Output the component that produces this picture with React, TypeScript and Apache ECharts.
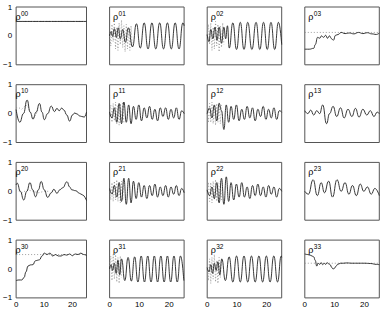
import React, { useEffect, useRef } from 'react';
import * as echarts from 'echarts';

// ---------- data (solid = estimate, dotted = reference) ----------
const p00x = [0, 25];
const p00y = [0.5, 0.5];
const d00x = [0, 25];
const d00y = [0.5, 0.5];

const p01x = [0, 0.5, 1.0, 1.6, 2.3, 2.9, 3.6, 4.4, 5.3, 6.3, 7.7, 9.0, 10.3, 11.6, 12.9, 14.2, 15.5, 16.8, 18.1, 19.4, 20.7, 22.0, 23.3, 24.6, 25];
const p01y = [0.0, 0.15, -0.02, 0.25, -0.05, 0.28, -0.1, 0.22, -0.22, 0.28, -0.38, 0.42, -0.42, 0.45, -0.45, 0.45, -0.45, 0.45, -0.45, 0.45, -0.45, 0.45, -0.45, 0.45, 0.35];
const d01x = [0, 0.4, 0.8, 1.2, 1.6, 2.0, 2.4, 2.8, 3.2, 3.6, 4.0, 4.4, 4.8, 5.2, 5.6, 6.0, 6.4, 6.8, 7.2, 7.6];
const d01y = [0.1, -0.35, 0.4, -0.2, 0.5, -0.45, 0.3, -0.5, 0.45, -0.3, 0.55, -0.4, 0.35, -0.55, 0.4, -0.45, 0.3, -0.5, 0.35, -0.38];

const p02x = [0, 0.6, 1.2, 1.9, 2.6, 3.3, 4.0, 4.8, 5.6, 6.2, 6.8, 7.4, 8.6, 9.85, 11.1, 12.35, 13.6, 15.0, 16.4, 17.65, 18.9, 20.15, 21.4, 22.65, 23.9, 25];
const p02y = [0.05, -0.2, 0.22, -0.1, 0.3, -0.15, 0.3, -0.25, 0.3, -0.1, 0.35, -0.42, 0.45, -0.47, 0.47, -0.47, 0.47, -0.47, 0.47, -0.47, 0.47, -0.47, 0.47, -0.47, 0.47, -0.3];
const d02x = [0, 0.4, 0.8, 1.2, 1.6, 2.0, 2.4, 2.8, 3.2, 3.6, 4.0, 4.4, 4.8, 5.2, 5.6];
const d02y = [0.0, 0.4, -0.3, 0.45, -0.5, 0.3, -0.45, 0.5, -0.35, 0.4, -0.55, 0.35, -0.4, 0.45, -0.3];

const p03x = [0, 1.5, 3.0, 3.5, 4.3, 5.0, 5.6, 6.3, 7.0, 7.6, 8.3, 9.0, 9.6, 10.3, 11.2, 12.2, 13.5, 15, 16.5, 18, 19.5, 21, 22.5, 24, 25];
const p03y = [-0.46, -0.46, -0.43, -0.3, -0.05, -0.08, 0.0, -0.05, 0.02, -0.08, 0.0, -0.1, -0.15, 0.02, 0.05, 0.12, 0.08, 0.1, 0.07, 0.12, 0.08, 0.11, 0.07, 0.05, 0.1];
const d03x = [0, 25];
const d03y = [0.12, 0.12];

const p10x = [0, 1.3, 2.6, 3.9, 5.0, 6.0, 7.1, 8.3, 9.2, 10.0, 11.2, 12.5, 13.6, 14.5, 15.3, 16.2, 17.0, 18.0, 19.0, 20.0, 20.8, 21.8, 22.5, 23.3, 24.2, 25];
const p10y = [0.14, -0.3, 0.0, 0.47, 0.05, -0.19, 0.05, 0.35, 0.05, -0.21, 0.0, 0.26, 0.07, 0.18, 0.1, 0.19, 0.12, -0.05, -0.26, -0.05, 0.02, -0.02, -0.08, -0.1, -0.12, 0.05];
const d10x = [0, 1, 2, 3, 4, 5, 6, 7, 8];
const d10y = [0.2, 0.2, 0.15, 0.25, 0.3, 0.05, -0.15, -0.05, 0.2];

const nx = [0, 0.8, 1.6, 2.4, 3.2, 4.0, 4.8, 5.6, 6.4, 7.2, 8.0, 8.9, 9.8, 10.7, 11.6, 12.5, 13.4, 14.3, 15.2, 16.1, 17.0, 17.9, 18.8, 19.7, 20.6, 21.5, 22.4, 23.3, 24.2, 25];
const p11y = [0.05, -0.15, 0.2, -0.3, 0.35, -0.35, 0.4, -0.3, 0.3, -0.35, 0.25, -0.2, 0.3, -0.25, 0.2, -0.15, 0.25, -0.2, 0.15, -0.25, 0.2, -0.1, 0.2, -0.2, 0.15, -0.15, 0.2, -0.2, 0.1, 0.0];
const p12y = [0.0, 0.2, -0.15, 0.3, -0.25, 0.35, 0.1, -0.55, 0.3, -0.3, 0.25, -0.2, 0.3, -0.25, 0.15, -0.2, 0.25, -0.15, 0.2, -0.25, 0.15, -0.1, 0.25, -0.2, 0.15, -0.15, 0.2, -0.2, 0.1, 0.05];
const p21y = [0.1, -0.1, 0.2, -0.2, 0.3, -0.35, 0.45, -0.45, 0.45, -0.4, 0.35, -0.25, 0.3, -0.2, 0.2, -0.25, 0.2, -0.15, 0.25, -0.2, 0.15, -0.15, 0.2, -0.2, 0.15, -0.1, 0.2, -0.15, 0.1, -0.05];
const p22y = [0.05, -0.15, 0.15, -0.25, 0.3, -0.4, 0.45, -0.45, 0.5, -0.35, 0.3, -0.3, 0.25, -0.2, 0.3, -0.2, 0.15, -0.25, 0.2, -0.15, 0.25, -0.15, 0.15, -0.2, 0.2, -0.1, 0.15, -0.2, 0.1, 0.0];
const dnx = [0, 0.4, 0.8, 1.2, 1.6, 2.0, 2.4, 2.8, 3.2, 3.6, 4.0, 4.4, 4.8];
const d11y = [0.0, 0.3, -0.3, 0.35, -0.25, 0.4, -0.35, 0.3, -0.4, 0.35, -0.3, 0.4, -0.35];
const d12y = [0.0, -0.3, 0.35, -0.3, 0.4, -0.35, 0.3, -0.4, 0.35, -0.3, 0.4, -0.35, 0.3];
const d21y = [0.1, -0.3, 0.3, -0.35, 0.35, -0.3, 0.4, -0.35, 0.3, -0.4, 0.35, -0.3, 0.4];
const d22y = [0.0, 0.3, -0.35, 0.3, -0.4, 0.35, -0.3, 0.4, -0.35, 0.3, -0.4, 0.35, -0.3];

const p13x = [0, 1, 2, 3, 4, 5, 6, 7.3, 8.3, 9.5, 10.7, 12, 13.2, 14.5, 15.8, 17, 18.2, 19.5, 20.8, 22, 23.2, 24.3, 25];
const p13y = [0.1, 0.0, 0.12, -0.05, 0.1, 0.0, 0.3, -0.35, 0.0, 0.25, -0.1, 0.2, -0.15, 0.15, -0.1, 0.18, -0.12, 0.15, -0.05, 0.1, -0.1, 0.05, 0.0];

const p20x = [0, 0.4, 1.5, 2.7, 3.8, 4.9, 5.9, 6.9, 7.9, 8.9, 10.0, 11.2, 12.5, 13.4, 14.5, 15.5, 16.5, 18.1, 19.0, 19.8, 21.2, 22.5, 23.5, 25];
const p20y = [0.22, 0.28, 0.0, -0.3, 0.0, 0.3, 0.05, -0.19, 0.05, 0.34, 0.05, -0.21, -0.05, 0.07, -0.07, 0.05, 0.12, 0.33, 0.15, 0.05, 0.02, -0.07, -0.12, -0.32];
const d20x = [0, 2, 4, 6, 8, 10, 12];
const d20y = [0.05, -0.05, 0.05, 0.0, -0.05, 0.0, 0.0];

const p23x = [0, 1.2, 2.8, 4.2, 5.5, 6.6, 8, 9.3, 10.8, 12.2, 13.5, 14.8, 16, 17.3, 18.6, 19.8, 21, 22.3, 23.5, 25];
const p23y = [0.0, -0.1, 0.4, -0.15, 0.3, -0.05, 0.35, -0.2, 0.4, 0.0, 0.3, -0.1, 0.2, -0.15, 0.25, 0.0, 0.15, -0.1, 0.1, -0.15];

const p30x = [0, 1, 2, 2.8, 3.5, 4.2, 5, 6, 6.8, 7.5, 8.3, 9.2, 10, 11, 12, 13, 14, 15, 16, 17, 18, 19, 20, 21, 22, 23, 24, 25];
const p30y = [-0.4, -0.38, -0.38, -0.3, -0.1, 0.1, 0.14, 0.15, 0.28, 0.3, 0.32, 0.45, 0.55, 0.5, 0.55, 0.45, 0.5, 0.45, 0.45, 0.5, 0.48, 0.52, 0.46, 0.52, 0.5, 0.55, 0.5, 0.47];
const d30x = [0, 25];
const d30y = [0.5, 0.5];

const p31x = [0, 0.5, 1.0, 1.6, 2.2, 2.8, 3.4, 4.0, 5.1, 6.2, 7.3, 8.4, 9.5, 10.6, 11.7, 12.8, 13.9, 15.0, 16.1, 17.2, 18.3, 19.4, 20.5, 21.6, 22.7, 23.8, 24.9];
const p31y = [0.0, 0.15, -0.05, 0.2, -0.15, 0.3, -0.2, 0.35, -0.4, 0.4, -0.42, 0.42, -0.45, 0.45, -0.45, 0.45, -0.45, 0.45, -0.45, 0.45, -0.45, 0.45, -0.45, 0.45, -0.45, 0.45, -0.4];
const d31x = [0, 0.4, 0.8, 1.2, 1.6, 2.0, 2.4, 2.8, 3.2, 3.6, 4.0];
const d31y = [0.1, 0.45, -0.4, 0.5, -0.35, 0.55, -0.45, 0.4, -0.5, 0.45, -0.3];

const p32x = [0, 0.6, 1.2, 1.8, 2.4, 3.0, 3.6, 4.2, 4.9, 6.1, 7.35, 8.6, 9.85, 11.1, 12.35, 13.6, 14.85, 16.1, 17.35, 18.6, 19.85, 21.1, 22.35, 23.6, 24.85, 25];
const p32y = [0.05, -0.1, 0.15, -0.15, 0.2, -0.05, 0.25, -0.2, 0.35, -0.4, 0.42, -0.45, 0.45, -0.45, 0.45, -0.45, 0.45, -0.45, 0.45, -0.45, 0.45, -0.45, 0.45, -0.45, 0.45, 0.4];
const d32x = [0, 0.4, 0.8, 1.2, 1.6, 2.0, 2.4, 2.8, 3.2, 3.6, 4.0, 4.4, 4.8];
const d32y = [0.0, -0.4, 0.35, -0.5, 0.4, -0.35, 0.5, -0.45, 0.3, -0.5, 0.4, -0.3, 0.35];

const p33x = [0, 1, 2, 3, 3.5, 4, 4.5, 5, 5.5, 6, 6.5, 7, 7.5, 8, 8.5, 9, 9.5, 10, 10.5, 11, 12, 13, 14, 16, 18, 20, 22, 24, 25];
const p33y = [0.52, 0.5, 0.47, 0.42, 0.3, 0.1, 0.2, 0.16, 0.22, 0.15, 0.2, 0.16, 0.22, 0.18, 0.15, 0.06, 0.0, 0.03, 0.1, 0.16, 0.2, 0.2, 0.21, 0.2, 0.2, 0.2, 0.19, 0.16, 0.15];
const d33x = [0, 25];
const d33y = [0.2, 0.2];

const xTicks = [0, 10, 20];
const yTicks = [-1, 0, 1];

const PANELS = [
  ['00', p00x, p00y, d00x, d00y], ['01', p01x, p01y, d01x, d01y], ['02', p02x, p02y, d02x, d02y], ['03', p03x, p03y, d03x, d03y],
  ['10', p10x, p10y, d10x, d10y], ['11', nx, p11y, dnx, d11y], ['12', nx, p12y, dnx, d12y], ['13', p13x, p13y, [], []],
  ['20', p20x, p20y, d20x, d20y], ['21', nx, p21y, dnx, d21y], ['22', nx, p22y, dnx, d22y], ['23', p23x, p23y, [], []],
  ['30', p30x, p30y, d30x, d30y], ['31', p31x, p31y, d31x, d31y], ['32', p32x, p32y, d32x, d32y], ['33', p33x, p33y, d33x, d33y],
] as const;

const LEFTS = [12, 109.6, 207.2, 304.8];
const TOPS = [7, 84.7, 162.4, 240.1];
const W = 74.5;
const H = 57.8;
const FONT = 'Liberation Sans, Arial, sans-serif';

const zip = (xs: readonly number[], ys: readonly number[]) => xs.map((x, i) => [x, ys[i]]);

export default function App() {
  const ref = useRef<HTMLDivElement>(null);
  useEffect(() => {
    if (!ref.current) return;
    const chart = echarts.init(ref.current, undefined, { renderer: 'svg' });
    const grid: any[] = [];
    const xAxis: any[] = [];
    const yAxis: any[] = [];
    const series: any[] = [];
    const graphic: any[] = [];
    PANELS.forEach((p, k) => {
      const r = Math.floor(k / 4);
      const c = k % 4;
      const left = LEFTS[c];
      const top = TOPS[r];
      grid.push({ left, top, width: W, height: H, show: true, borderColor: '#555', borderWidth: 1, backgroundColor: 'transparent' });
      xAxis.push({
        gridIndex: k, type: 'value', min: 0, max: 25, interval: 10,
        axisLine: { show: false, onZero: false }, splitLine: { show: false },
        axisTick: { show: false },
        axisLabel: {
          show: r === 3, showMaxLabel: false, fontSize: 8, color: '#000', margin: 3, fontFamily: FONT,
          formatter: (v: number) => (xTicks.includes(v) ? String(v) : ''),
        },
      });
      yAxis.push({
        gridIndex: k, type: 'value', min: -1, max: 1, interval: 1,
        axisLine: { show: false, onZero: false }, splitLine: { show: false },
        axisTick: { show: false },
        axisLabel: {
          show: c === 0, fontSize: 8, color: '#000', margin: 4, fontFamily: FONT,
          formatter: (v: number) => (yTicks.includes(v) ? String(v).replace('-', '\u2212') : ''),
        },
      });
      const [name, sx, sy, dx, dy] = p;
      if (dx.length) {
        series.push({
          type: 'line', xAxisIndex: k, yAxisIndex: k, data: zip(dx, dy), showSymbol: false, symbol: 'none',
          lineStyle: { color: '#888', width: 0.8, type: [1, 2] }, silent: true, z: 1,
        });
      }
      series.push({
        type: 'line', xAxisIndex: k, yAxisIndex: k, data: zip(sx, sy), showSymbol: false, symbol: 'none',
        smooth: 0.5, smoothMonotone: 'x',
        lineStyle: { color: '#222', width: 0.9 }, silent: true, z: 2,
      });
      graphic.push({
        type: 'text', left: left + 3.5, top: top + 5,
        style: { text: '\u03c1', fontSize: 9, fill: '#000', fontFamily: FONT },
      });
      graphic.push({
        type: 'text', left: left + 9, top: top + 2.5,
        style: { text: name, fontSize: 6.5, fill: '#000', fontFamily: FONT },
      });
    });
    chart.setOption({
      animation: false,
      backgroundColor: '#fff',
      grid, xAxis, yAxis, series, graphic,
    });
    return () => chart.dispose();
  }, []);
  return <div ref={ref} style={{ position: 'fixed', left: 0, top: 0, width: 382, height: 309 }} />;
}
